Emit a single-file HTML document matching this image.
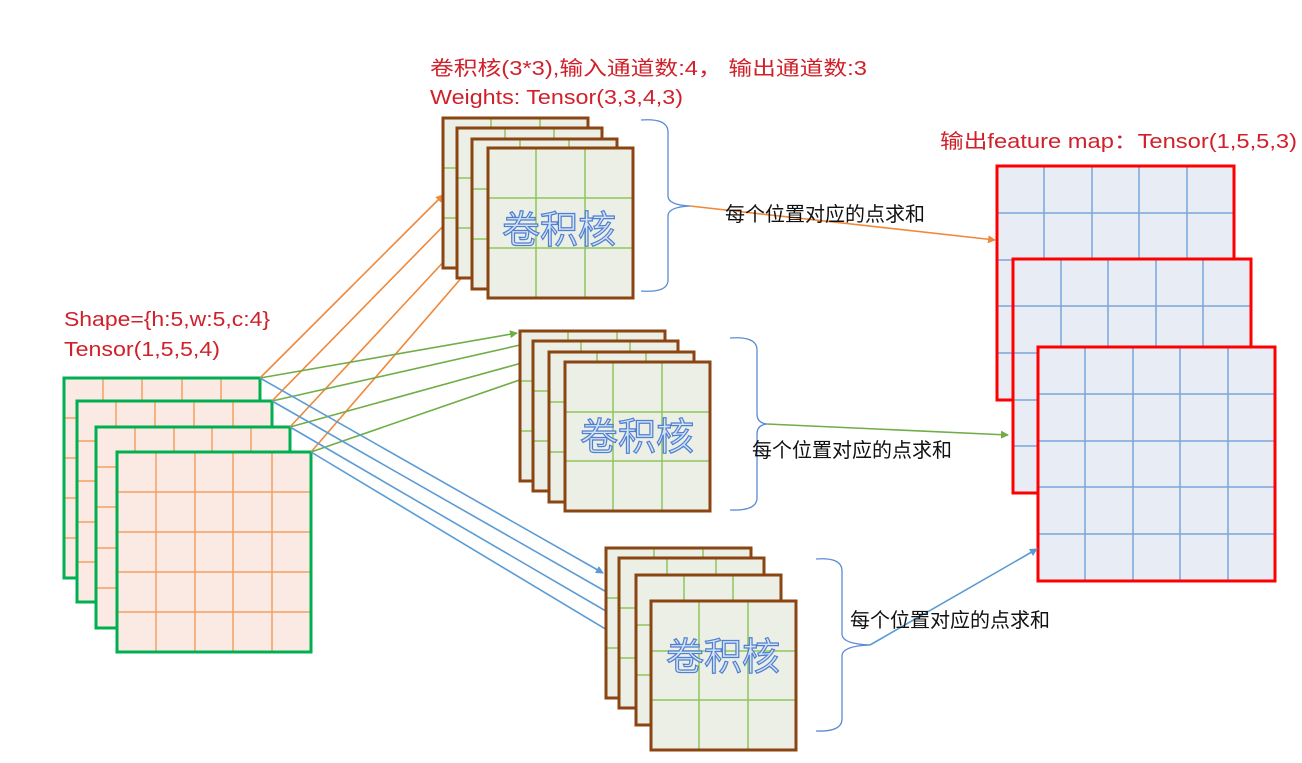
<!DOCTYPE html>
<html><head><meta charset="utf-8"><style>
html,body{margin:0;padding:0;background:#fff;}
svg{display:block;}
.red{fill:#d0202a;font-family:"Liberation Sans","Noto Sans CJK SC",sans-serif;font-size:20px;}
.blk{fill:#111;font-family:"Liberation Sans","Noto Sans CJK SC",sans-serif;font-size:20px;}
.kl{fill:#d6e2f5;stroke:#4f7fcf;stroke-width:1.2;font-family:"Noto Sans CJK SC",sans-serif;font-size:38px;}
.in{fill:#fbe9e3;stroke:#00b050;stroke-width:3;}
.ing{stroke:#f4a060;stroke-width:1.5;}
.k{fill:#ebefe6;stroke:#8b4513;stroke-width:3;}
.kg{stroke:#8fc55a;stroke-width:1.5;}
.o{fill:#e8ecf5;stroke:#ff0000;stroke-width:3;}
.og{stroke:#7aa7d9;stroke-width:1.5;}
.bt{fill:none;stroke:#5b8bd4;stroke-width:1.3;}
</style></head><body>
<svg width="1302" height="763" viewBox="0 0 1302 763" xmlns="http://www.w3.org/2000/svg">
<defs>
<marker id="ao" markerWidth="8" markerHeight="8" refX="7" refY="4" orient="auto" markerUnits="userSpaceOnUse"><path d="M0,0 L8,4 L0,8 z" fill="#f0883a"/></marker>
<marker id="ag" markerWidth="8" markerHeight="8" refX="7" refY="4" orient="auto" markerUnits="userSpaceOnUse"><path d="M0,0 L8,4 L0,8 z" fill="#70ad47"/></marker>
<marker id="ab" markerWidth="8" markerHeight="8" refX="7" refY="4" orient="auto" markerUnits="userSpaceOnUse"><path d="M0,0 L8,4 L0,8 z" fill="#5b9bd5"/></marker>
</defs>

<!-- texts -->
<text class="red" x="430" y="75" textLength="437" lengthAdjust="spacingAndGlyphs">卷积核(3*3),输入通道数:4， 输出通道数:3</text>
<text class="red" x="430" y="104" textLength="253" lengthAdjust="spacingAndGlyphs">Weights: Tensor(3,3,4,3)</text>
<text class="red" x="940" y="148" textLength="357" lengthAdjust="spacingAndGlyphs">输出feature map：Tensor(1,5,5,3)</text>
<text class="red" x="64" y="326" textLength="206" lengthAdjust="spacingAndGlyphs">Shape={h:5,w:5,c:4}</text>
<text class="red" x="64" y="356" textLength="156" lengthAdjust="spacingAndGlyphs">Tensor(1,5,5,4)</text>

<!-- input -->
<rect class="in" x="64" y="378" width="196" height="200"/>
<g class="ing"><line x1="103" y1="378" x2="103" y2="578"/><line x1="142" y1="378" x2="142" y2="578"/><line x1="182" y1="378" x2="182" y2="578"/><line x1="221" y1="378" x2="221" y2="578"/><line x1="64" y1="418" x2="260" y2="418"/><line x1="64" y1="458" x2="260" y2="458"/><line x1="64" y1="498" x2="260" y2="498"/><line x1="64" y1="538" x2="260" y2="538"/></g>
<rect class="in" x="64" y="378" width="196" height="200" fill="none" style="fill:none"/>
<rect class="in" x="77" y="401" width="195" height="201"/>
<g class="ing"><line x1="116" y1="401" x2="116" y2="602"/><line x1="155" y1="401" x2="155" y2="602"/><line x1="194" y1="401" x2="194" y2="602"/><line x1="233" y1="401" x2="233" y2="602"/><line x1="77" y1="441" x2="272" y2="441"/><line x1="77" y1="481" x2="272" y2="481"/><line x1="77" y1="522" x2="272" y2="522"/><line x1="77" y1="562" x2="272" y2="562"/></g>
<rect class="in" x="77" y="401" width="195" height="201" style="fill:none"/>
<rect class="in" x="96" y="427" width="194" height="201"/>
<g class="ing"><line x1="135" y1="427" x2="135" y2="628"/><line x1="174" y1="427" x2="174" y2="628"/><line x1="212" y1="427" x2="212" y2="628"/><line x1="251" y1="427" x2="251" y2="628"/><line x1="96" y1="467" x2="290" y2="467"/><line x1="96" y1="507" x2="290" y2="507"/><line x1="96" y1="548" x2="290" y2="548"/><line x1="96" y1="588" x2="290" y2="588"/></g>
<rect class="in" x="96" y="427" width="194" height="201" style="fill:none"/>
<rect class="in" x="117" y="452" width="194" height="200"/>
<g class="ing"><line x1="156" y1="452" x2="156" y2="652"/><line x1="195" y1="452" x2="195" y2="652"/><line x1="233" y1="452" x2="233" y2="652"/><line x1="272" y1="452" x2="272" y2="652"/><line x1="117" y1="492" x2="311" y2="492"/><line x1="117" y1="532" x2="311" y2="532"/><line x1="117" y1="572" x2="311" y2="572"/><line x1="117" y1="612" x2="311" y2="612"/></g>
<rect class="in" x="117" y="452" width="194" height="200" style="fill:none"/>

<!-- arrows input -> kernels -->
<g stroke="#f0883a" stroke-width="1.6" marker-end="url(#ao)">
<line x1="260" y1="378" x2="443" y2="195"/><line x1="272" y1="401" x2="458" y2="211"/><line x1="290" y1="427" x2="475" y2="228"/><line x1="311" y1="452" x2="489" y2="246"/>
</g>
<g stroke="#70ad47" stroke-width="1.6" marker-end="url(#ag)">
<line x1="260" y1="378" x2="517" y2="333"/><line x1="272" y1="401" x2="529" y2="343"/><line x1="290" y1="427" x2="547" y2="356"/><line x1="311" y1="452" x2="563" y2="365"/>
</g>
<g stroke="#5b9bd5" stroke-width="1.6" marker-end="url(#ab)">
<line x1="260" y1="378" x2="603" y2="573"/><line x1="272" y1="401" x2="617" y2="598"/><line x1="290" y1="427" x2="635" y2="628"/><line x1="311" y1="452" x2="652" y2="657"/>
</g>

<!-- kernel stack 1 -->
<g>
<rect class="k" x="443" y="118" width="145" height="150"/><g class="kg"><line x1="491" y1="118" x2="491" y2="268"/><line x1="540" y1="118" x2="540" y2="268"/><line x1="443" y1="168" x2="588" y2="168"/><line x1="443" y1="218" x2="588" y2="218"/></g><rect class="k" x="443" y="118" width="145" height="150" style="fill:none"/>
<rect class="k" x="457" y="128" width="145" height="150"/><g class="kg"><line x1="505" y1="128" x2="505" y2="278"/><line x1="554" y1="128" x2="554" y2="278"/><line x1="457" y1="178" x2="602" y2="178"/><line x1="457" y1="228" x2="602" y2="228"/></g><rect class="k" x="457" y="128" width="145" height="150" style="fill:none"/>
<rect class="k" x="472" y="139" width="145" height="150"/><g class="kg"><line x1="520" y1="139" x2="520" y2="289"/><line x1="569" y1="139" x2="569" y2="289"/><line x1="472" y1="189" x2="617" y2="189"/><line x1="472" y1="239" x2="617" y2="239"/></g><rect class="k" x="472" y="139" width="145" height="150" style="fill:none"/>
<rect class="k" x="488" y="148" width="145" height="150"/><g class="kg"><line x1="536" y1="148" x2="536" y2="298"/><line x1="585" y1="148" x2="585" y2="298"/><line x1="488" y1="198" x2="633" y2="198"/><line x1="488" y1="248" x2="633" y2="248"/></g><rect class="k" x="488" y="148" width="145" height="150" style="fill:none"/>
<text class="kl" x="502" y="243">卷积核</text>
</g>
<!-- kernel stack 2 -->
<g>
<rect class="k" x="520" y="331" width="145" height="150"/><g class="kg"><line x1="568" y1="331" x2="568" y2="481"/><line x1="617" y1="331" x2="617" y2="481"/><line x1="520" y1="381" x2="665" y2="381"/><line x1="520" y1="431" x2="665" y2="431"/></g><rect class="k" x="520" y="331" width="145" height="150" style="fill:none"/>
<rect class="k" x="533" y="341" width="145" height="150"/><g class="kg"><line x1="581" y1="341" x2="581" y2="491"/><line x1="630" y1="341" x2="630" y2="491"/><line x1="533" y1="391" x2="678" y2="391"/><line x1="533" y1="441" x2="678" y2="441"/></g><rect class="k" x="533" y="341" width="145" height="150" style="fill:none"/>
<rect class="k" x="549" y="352" width="145" height="150"/><g class="kg"><line x1="597" y1="352" x2="597" y2="502"/><line x1="646" y1="352" x2="646" y2="502"/><line x1="549" y1="402" x2="694" y2="402"/><line x1="549" y1="452" x2="694" y2="452"/></g><rect class="k" x="549" y="352" width="145" height="150" style="fill:none"/>
<rect class="k" x="565" y="362" width="145" height="149"/><g class="kg"><line x1="613" y1="362" x2="613" y2="511"/><line x1="662" y1="362" x2="662" y2="511"/><line x1="565" y1="412" x2="710" y2="412"/><line x1="565" y1="461" x2="710" y2="461"/></g><rect class="k" x="565" y="362" width="145" height="149" style="fill:none"/>
<text class="kl" x="580" y="450">卷积核</text>
</g>
<!-- kernel stack 3 -->
<g>
<rect class="k" x="606" y="548" width="145" height="150"/><g class="kg"><line x1="654" y1="548" x2="654" y2="698"/><line x1="703" y1="548" x2="703" y2="698"/><line x1="606" y1="598" x2="751" y2="598"/><line x1="606" y1="648" x2="751" y2="648"/></g><rect class="k" x="606" y="548" width="145" height="150" style="fill:none"/>
<rect class="k" x="619" y="558" width="145" height="150"/><g class="kg"><line x1="667" y1="558" x2="667" y2="708"/><line x1="716" y1="558" x2="716" y2="708"/><line x1="619" y1="608" x2="764" y2="608"/><line x1="619" y1="658" x2="764" y2="658"/></g><rect class="k" x="619" y="558" width="145" height="150" style="fill:none"/>
<rect class="k" x="636" y="575" width="145" height="150"/><g class="kg"><line x1="684" y1="575" x2="684" y2="725"/><line x1="733" y1="575" x2="733" y2="725"/><line x1="636" y1="625" x2="781" y2="625"/><line x1="636" y1="675" x2="781" y2="675"/></g><rect class="k" x="636" y="575" width="145" height="150" style="fill:none"/>
<rect class="k" x="651" y="601" width="145" height="149"/><g class="kg"><line x1="699" y1="601" x2="699" y2="750"/><line x1="748" y1="601" x2="748" y2="750"/><line x1="651" y1="651" x2="796" y2="651"/><line x1="651" y1="700" x2="796" y2="700"/></g><rect class="k" x="651" y="601" width="145" height="149" style="fill:none"/>
<text class="kl" x="666" y="670">卷积核</text>
</g>

<!-- output -->
<rect class="o" x="997" y="166" width="237" height="234"/>
<g class="og"><line x1="1044" y1="166" x2="1044" y2="400"/><line x1="1092" y1="166" x2="1092" y2="400"/><line x1="1139" y1="166" x2="1139" y2="400"/><line x1="1187" y1="166" x2="1187" y2="400"/><line x1="997" y1="213" x2="1234" y2="213"/><line x1="997" y1="260" x2="1234" y2="260"/><line x1="997" y1="306" x2="1234" y2="306"/><line x1="997" y1="353" x2="1234" y2="353"/></g>
<rect class="o" x="997" y="166" width="237" height="234" style="fill:none"/>
<rect class="o" x="1013" y="259" width="238" height="234"/>
<g class="og"><line x1="1061" y1="259" x2="1061" y2="493"/><line x1="1108" y1="259" x2="1108" y2="493"/><line x1="1156" y1="259" x2="1156" y2="493"/><line x1="1203" y1="259" x2="1203" y2="493"/><line x1="1013" y1="306" x2="1251" y2="306"/><line x1="1013" y1="353" x2="1251" y2="353"/><line x1="1013" y1="400" x2="1251" y2="400"/><line x1="1013" y1="446" x2="1251" y2="446"/></g>
<rect class="o" x="1013" y="259" width="238" height="234" style="fill:none"/>
<rect class="o" x="1038" y="347" width="237" height="234"/>
<g class="og"><line x1="1085" y1="347" x2="1085" y2="581"/><line x1="1133" y1="347" x2="1133" y2="581"/><line x1="1180" y1="347" x2="1180" y2="581"/><line x1="1228" y1="347" x2="1228" y2="581"/><line x1="1038" y1="394" x2="1275" y2="394"/><line x1="1038" y1="441" x2="1275" y2="441"/><line x1="1038" y1="487" x2="1275" y2="487"/><line x1="1038" y1="534" x2="1275" y2="534"/></g>
<rect class="o" x="1038" y="347" width="237" height="234" style="fill:none"/>

<!-- braces -->
<path class="bt" d="M641,120 Q668,118 668,132 L668,196 Q668,205 690,206 Q668,207 668,216 L668,280 Q668,293 641,291"/>
<path class="bt" d="M730,338 Q757,336 757,350 L757,414 Q757,423 767,424 Q757,425 757,434 L757,498 Q757,511 730,510"/>
<path class="bt" d="M816,559 Q842,557 842,571 L842,634 Q842,644 870,645 Q842,646 842,656 L842,719 Q842,732 816,731"/>

<!-- brace arrows -->
<line x1="690" y1="206" x2="995" y2="240" stroke="#f0883a" stroke-width="1.6" marker-end="url(#ao)"/>
<line x1="767" y1="424" x2="1008" y2="435" stroke="#70ad47" stroke-width="1.6" marker-end="url(#ag)"/>
<line x1="870" y1="645" x2="1037" y2="549" stroke="#5b9bd5" stroke-width="1.6" marker-end="url(#ab)"/>

<text class="blk" x="725" y="221">每个位置对应的点求和</text>
<text class="blk" x="752" y="457">每个位置对应的点求和</text>
<text class="blk" x="850" y="627">每个位置对应的点求和</text>
</svg>
</body></html>
